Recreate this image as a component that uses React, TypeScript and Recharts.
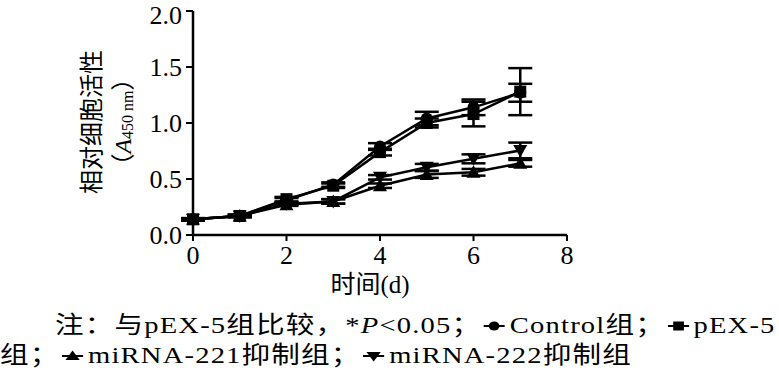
import React from 'react';
import { LineChart, Line, XAxis, YAxis, ErrorBar } from 'recharts';

const days = [0, 1, 2, 3, 4, 5, 6, 7];
const controlMean = [0.14, 0.17, 0.31, 0.45, 0.79, 1.04, 1.14, 1.27];
const controlErr = [0.01, 0.01, 0.02, 0.02, 0.03, 0.06, 0.07, 0.08];
const pex5Mean = [0.14, 0.17, 0.32, 0.44, 0.74, 1.0, 1.08, 1.28];
const pex5Err = [0.01, 0.01, 0.02, 0.02, 0.03, 0.04, 0.11, 0.21];
const mir221Mean = [0.14, 0.17, 0.27, 0.3, 0.44, 0.54, 0.56, 0.64];
const mir221Err = [0.01, 0.01, 0.01, 0.02, 0.02, 0.03, 0.03, 0.03];
const mir222Mean = [0.14, 0.17, 0.28, 0.3, 0.515, 0.605, 0.68, 0.755];
const mir222Err = [0.01, 0.01, 0.01, 0.02, 0.02, 0.03, 0.04, 0.07];

const xTicks = [0, 2, 4, 6, 8];
const yTicks = [0, 0.5, 1, 1.5, 2];
const xTitle = '时间(d)';
const yTitle1 = '相对细胞活性';
const noteLead = '注：与pEX-5组比较，';
const seriesNames = ['Control组', 'pEX-5', 'miRNA-221抑制组', 'miRNA-222抑制组'];

const data = days.map((d, i) => ({
  day: d,
  control: controlMean[i],
  controlErr: controlErr[i],
  pex5: pex5Mean[i],
  pex5Err: pex5Err[i],
  mir221: mir221Mean[i],
  mir221Err: mir221Err[i],
  mir222: mir222Mean[i],
  mir222Err: mir222Err[i],
}));

const FONT = "'Liberation Serif','Times New Roman','Noto Sans CJK SC',serif";

const CircleDot = (p: any) => <circle key={`c${p.index}`} cx={p.cx} cy={p.cy} r={6} fill="#000" />;
const SquareDot = (p: any) => <rect key={`s${p.index}`} x={p.cx - 6} y={p.cy - 6} width={12} height={12} fill="#000" />;
const TriUpDot = (p: any) => (
  <polygon key={`u${p.index}`} points={`${p.cx},${p.cy - 7} ${p.cx - 7},${p.cy + 5.5} ${p.cx + 7},${p.cy + 5.5}`} fill="#000" />
);
const TriDownDot = (p: any) => (
  <polygon key={`d${p.index}`} points={`${p.cx},${p.cy + 7} ${p.cx - 7},${p.cy - 5.5} ${p.cx + 7},${p.cy - 5.5}`} fill="#000" />
);

const Icon = ({ kind }: { kind: string }) => (
  <svg width={18} height={12} style={{ verticalAlign: 'middle', margin: '0 4px 2px 2px' }}>
    <line x1={0} y1={6} x2={18} y2={6} stroke="#000" strokeWidth={2} />
    {kind === 'c' && <circle cx={9} cy={6} r={4.5} fill="#000" />}
    {kind === 's' && <rect x={4.5} y={1.5} width={9} height={9} fill="#000" />}
    {kind === 'u' && <polygon points="9,0.5 3,10 15,10" fill="#000" />}
    {kind === 'd' && <polygon points="9,11.5 3,2 15,2" fill="#000" />}
  </svg>
);

const YLabel = () => (
  <g fontFamily={FONT} fill="#000">
    <text x={92} y={122} transform="rotate(-90 92 122)" textAnchor="middle" dominantBaseline="central" fontSize={24}>
      {yTitle1}
    </text>
    <text x={123} y={122} transform="rotate(-90 123 122)" textAnchor="middle" dominantBaseline="central" fontSize={24}>
      （<tspan fontStyle="italic">A</tspan>
      <tspan fontSize={16} dy={4}>450 nm</tspan>
      <tspan dy={-4}>）</tspan>
    </text>
  </g>
);

const XLabel = (props: any) => {
  const vb = props.viewBox || { x: 193, width: 374 };
  return (
    <text x={vb.x + vb.width / 2 - 10} y={284} textAnchor="middle" dominantBaseline="central" fontSize={25} fontFamily={FONT} fill="#000">
      {xTitle}
    </text>
  );
};

const noteStyle: React.CSSProperties = {
  position: 'absolute',
  fontSize: 24,
  whiteSpace: 'nowrap',
  lineHeight: '30px',
  color: '#000',
  letterSpacing: 1,
  transform: 'scaleX(1.19)',
  transformOrigin: '0 0',
};

export default function App() {
  return (
    <div style={{ position: 'absolute', left: 0, top: 0, width: 779, height: 381, background: '#fff', fontFamily: FONT, overflow: 'hidden' }}>
      <LineChart width={779} height={381} data={data} margin={{ top: 11, right: 212, bottom: 0, left: 0 }}>
        <XAxis
          dataKey="day"
          type="number"
          domain={[0, 8]}
          ticks={xTicks}
          height={146}
          axisLine={{ stroke: '#000', strokeWidth: 2.5 }}
          tickLine={{ stroke: '#000', strokeWidth: 2 }}
          tickSize={6}
          tickMargin={5}
          tick={{ fill: '#000', fontSize: 26, fontFamily: FONT }}
          label={<XLabel />}
        />
        <YAxis
          type="number"
          domain={[0, 2]}
          ticks={yTicks}
          width={193}
          tickFormatter={(v: number) => v.toFixed(1)}
          axisLine={{ stroke: '#000', strokeWidth: 2.5 }}
          tickLine={{ stroke: '#000', strokeWidth: 2 }}
          tickSize={7}
          tickMargin={4}
          tick={{ fill: '#000', fontSize: 26, fontFamily: FONT }}
          label={<YLabel />}
        />
        <Line dataKey="mir221" stroke="#000" strokeWidth={2.5} dot={TriUpDot} isAnimationActive={false}>
          <ErrorBar dataKey="mir221Err" width={12} stroke="#000" strokeWidth={2.5} direction="y" />
        </Line>
        <Line dataKey="mir222" stroke="#000" strokeWidth={2.5} dot={TriDownDot} isAnimationActive={false}>
          <ErrorBar dataKey="mir222Err" width={12} stroke="#000" strokeWidth={2.5} direction="y" />
        </Line>
        <Line dataKey="pex5" stroke="#000" strokeWidth={2.5} dot={SquareDot} isAnimationActive={false}>
          <ErrorBar dataKey="pex5Err" width={12} stroke="#000" strokeWidth={2.5} direction="y" />
        </Line>
        <Line dataKey="control" stroke="#000" strokeWidth={2.5} dot={CircleDot} isAnimationActive={false}>
          <ErrorBar dataKey="controlErr" width={12} stroke="#000" strokeWidth={2.5} direction="y" />
        </Line>
      </LineChart>
      <div style={{ ...noteStyle, left: 55, top: 310 }}>
        {noteLead}*<i>P</i>&lt;0.05；<Icon kind="c" />{seriesNames[0]}；<Icon kind="s" />{seriesNames[1]}
      </div>
      <div style={{ ...noteStyle, left: 0, top: 340 }}>
        组；<Icon kind="u" />{seriesNames[2]}；<Icon kind="d" />{seriesNames[3]}
      </div>
    </div>
  );
}
